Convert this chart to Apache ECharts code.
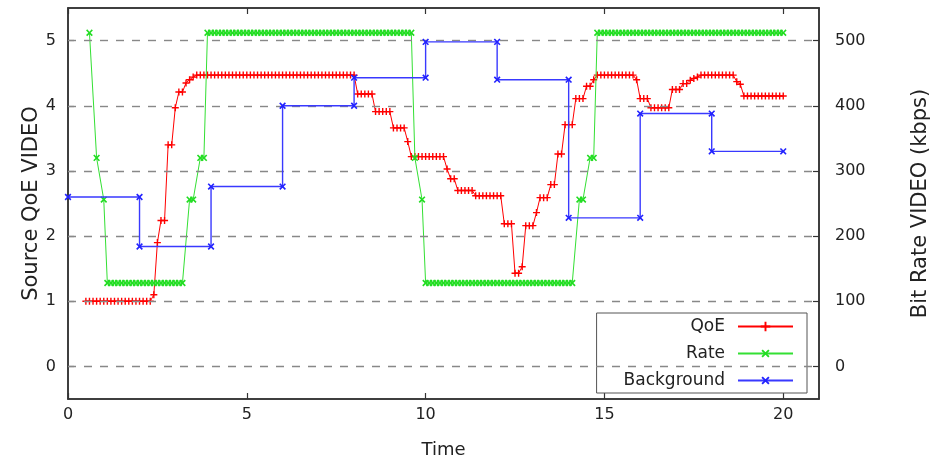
<!DOCTYPE html>
<html><head><meta charset="utf-8">
<script src="https://cdn.jsdelivr.net/npm/echarts@6/dist/echarts.min.js"></script>
<style>html,body{margin:0;padding:0;background:#fff}#c{width:936px;height:459px}</style>
</head><body><div id="c"></div>
<script>
// sample times (s)
const time = [
0.5,0.6,0.7,0.8,0.9,1.0,1.1,1.2,1.3,1.4,
1.5,1.6,1.7,1.8,1.9,2.0,2.1,2.2,2.3,2.4,
2.5,2.6,2.7,2.8,2.9,3.0,3.1,3.2,3.3,3.4,
3.5,3.6,3.7,3.8,3.9,4.0,4.1,4.2,4.3,4.4,
4.5,4.6,4.7,4.8,4.9,5.0,5.1,5.2,5.3,5.4,
5.5,5.6,5.7,5.8,5.9,6.0,6.1,6.2,6.3,6.4,
6.5,6.6,6.7,6.8,6.9,7.0,7.1,7.2,7.3,7.4,
7.5,7.6,7.7,7.8,7.9,8.0,8.1,8.2,8.3,8.4,
8.5,8.6,8.7,8.8,8.9,9.0,9.1,9.2,9.3,9.4,
9.5,9.6,9.7,9.8,9.9,10.0,10.1,10.2,10.3,10.4,
10.5,10.6,10.7,10.8,10.9,11.0,11.1,11.2,11.3,11.4,
11.5,11.6,11.7,11.8,11.9,12.0,12.1,12.2,12.3,12.4,
12.5,12.6,12.7,12.8,12.9,13.0,13.1,13.2,13.3,13.4,
13.5,13.6,13.7,13.8,13.9,14.0,14.1,14.2,14.3,14.4,
14.5,14.6,14.7,14.8,14.9,15.0,15.1,15.2,15.3,15.4,
15.5,15.6,15.7,15.8,15.9,16.0,16.1,16.2,16.3,16.4,
16.5,16.6,16.7,16.8,16.9,17.0,17.1,17.2,17.3,17.4,
17.5,17.6,17.7,17.8,17.9,18.0,18.1,18.2,18.3,18.4,
18.5,18.6,18.7,18.8,18.9,19.0,19.1,19.2,19.3,19.4,
19.5,19.6,19.7,19.8,19.9,20.0];

// Source QoE (left axis)
const qoe = [
1,1,1,1,1,1,1,1,1,1,
1,1,1,1,1,1,1,1,1,1.10,
1.90,2.24,2.24,3.40,3.40,3.97,4.21,4.21,4.35,4.40,
4.44,4.47,4.47,4.47,4.47,4.47,4.47,4.47,4.47,4.47,
4.47,4.47,4.47,4.47,4.47,4.47,4.47,4.47,4.47,4.47,
4.47,4.47,4.47,4.47,4.47,4.47,4.47,4.47,4.47,4.47,
4.47,4.47,4.47,4.47,4.47,4.47,4.47,4.47,4.47,4.47,
4.47,4.47,4.47,4.47,4.47,4.47,4.18,4.18,4.18,4.18,
4.18,3.91,3.91,3.91,3.91,3.91,3.66,3.66,3.66,3.66,
3.45,3.22,3.22,3.22,3.22,3.22,3.22,3.22,3.22,3.22,
3.22,3.03,2.88,2.88,2.70,2.70,2.70,2.70,2.70,2.62,
2.62,2.62,2.62,2.62,2.62,2.62,2.62,2.19,2.19,2.19,
1.43,1.43,1.53,2.16,2.16,2.16,2.36,2.59,2.59,2.59,
2.79,2.79,3.26,3.26,3.71,3.71,3.71,4.11,4.11,4.11,
4.30,4.30,4.40,4.47,4.47,4.47,4.47,4.47,4.47,4.47,
4.47,4.47,4.47,4.47,4.40,4.11,4.11,4.11,3.97,3.97,
3.97,3.97,3.97,3.97,4.25,4.25,4.25,4.34,4.34,4.39,
4.42,4.44,4.47,4.47,4.47,4.47,4.47,4.47,4.47,4.47,
4.47,4.47,4.37,4.33,4.15,4.15,4.15,4.15,4.15,4.15,
4.15,4.15,4.15,4.15,4.15,4.15];

// Bit rate (kbps, right axis); null = no sample
const rate = [
null,512,null,320,null,256,128,128,128,128,
128,128,128,128,128,128,128,128,128,128,
128,128,128,128,128,128,128,128,null,256,
256,null,320,320,512,512,512,512,512,512,
512,512,512,512,512,512,512,512,512,512,
512,512,512,512,512,512,512,512,512,512,
512,512,512,512,512,512,512,512,512,512,
512,512,512,512,512,512,512,512,512,512,
512,512,512,512,512,512,512,512,512,512,
512,512,320,null,256,128,128,128,128,128,
128,128,128,128,128,128,128,128,128,128,
128,128,128,128,128,128,128,128,128,128,
128,128,128,128,128,128,128,128,128,128,
128,128,128,128,128,128,128,null,256,256,
null,320,320,512,512,512,512,512,512,512,
512,512,512,512,512,512,512,512,512,512,
512,512,512,512,512,512,512,512,512,512,
512,512,512,512,512,512,512,512,512,512,
512,512,512,512,512,512,512,512,512,512,
512,512,512,512,512,512];

// Background traffic (kbps, right axis)
const bgTime = [0,2,2,4,4,6,6,8,8,10,10,12,12,14,14,16,16,18,18,20];
const bgRate = [260,260,184,184,276,276,400,400,443,443,498,498,440,440,228,228,388,388,330,330];

const xTicks = [0,5,10,15,20];
const qoeTicks = [0,1,2,3,4,5];
const rateTicks = [0,100,200,300,400,500];

const FONT = 'DejaVu Sans';
const PLUS = 'path://M4,0H6V4H10V6H6V10H4V6H0V4H4Z';

const qoeData = time.map((t, i) => [t, qoe[i]]);
const rateData = [];
time.forEach((t, i) => { if (rate[i] !== null) rateData.push([t, rate[i]]); });
const bgData = bgTime.map((t, i) => [t, bgRate[i]]);

const axisLineStyle = { color: '#333', width: 1.5 };
const lbl = { fontFamily: FONT, fontSize: 16, color: '#222' };
const tickStyle = { color: '#333', width: 1.2 };

const chart = echarts.init(document.getElementById('c'), null, { renderer: 'canvas' });
chart.setOption({
  animation: false,
  backgroundColor: '#fff',
  grid: { left: 68, right: 117, top: 8, bottom: 60, show: true, borderColor: '#333', borderWidth: 1.5,
          backgroundColor: 'transparent', outerBoundsMode: 'none', containLabel: false },
  legend: {
    data: ['QoE', 'Rate', 'Background'],
    orient: 'vertical', right: 129, bottom: 66, align: 'right',
    itemWidth: 55, itemHeight: 12, itemGap: 10,
    padding: [5, 13, 4, 27],
    borderColor: '#555', borderWidth: 1, backgroundColor: '#fff',
    textStyle: { fontFamily: FONT, fontSize: 17, color: '#222', padding: [0, 8, 0, 0] }
  },
  xAxis: [{
    type: 'value', min: 0, max: 21, position: 'bottom',
    name: 'Time', nameLocation: 'middle', nameGap: 42, nameMoveOverlap: false,
    nameTextStyle: { fontFamily: FONT, fontSize: 18, color: '#222' },
    axisLine: { show: true, onZero: false, lineStyle: axisLineStyle },
    axisTick: { show: true, inside: true, length: 6, customValues: xTicks, lineStyle: tickStyle },
    axisLabel: Object.assign({ customValues: xTicks, margin: 8 }, lbl),
    splitLine: { show: false }
  }, {
    type: 'value', min: 0, max: 21, position: 'top',
    axisLine: { show: true, onZero: false, lineStyle: axisLineStyle },
    axisTick: { show: true, inside: true, length: 6, customValues: xTicks, lineStyle: tickStyle },
    axisLabel: { show: false },
    splitLine: { show: false }
  }],
  yAxis: [{
    type: 'value', min: -0.5, max: 5.5, position: 'left',
    name: 'Source QoE VIDEO', nameLocation: 'middle', nameGap: 26, nameMoveOverlap: false,
    nameTextStyle: { fontFamily: FONT, fontSize: 21, color: '#222' },
    axisLine: { show: true, onZero: false, lineStyle: axisLineStyle },
    axisTick: { show: true, inside: true, length: 6, customValues: qoeTicks, lineStyle: tickStyle },
    axisLabel: Object.assign({ customValues: qoeTicks, margin: 12 }, lbl),
    splitLine: { show: false }
  }, {
    type: 'value', min: -50, max: 550, position: 'right',
    name: 'Bit Rate VIDEO (kbps)', nameLocation: 'middle', nameGap: 91, nameMoveOverlap: false,
    nameTextStyle: { fontFamily: FONT, fontSize: 21, color: '#222' },
    axisLine: { show: true, onZero: false, lineStyle: axisLineStyle },
    axisTick: { show: true, inside: true, length: 6, customValues: rateTicks, lineStyle: tickStyle },
    axisLabel: Object.assign({ customValues: rateTicks, margin: 16 }, lbl),
    splitLine: { show: false }
  }],
  series: [{
    name: 'grid', type: 'line', yAxisIndex: 0, data: [], z: 1, silent: true,
    markLine: {
      silent: true, symbol: ['none', 'none'], label: { show: false },
      lineStyle: { color: '#888', type: [8, 8], width: 1.4 },
      data: qoeTicks.map(v => ({ yAxis: v }))
    }
  }, {
    name: 'QoE', type: 'line', yAxisIndex: 0, data: qoeData, z: 3,
    color: '#ff0000',
    lineStyle: { color: '#ff0000', width: 1 },
    symbol: PLUS, symbolSize: 7,
    itemStyle: { color: '#ff0000' }
  }, {
    name: 'Rate', type: 'line', yAxisIndex: 1, data: rateData, z: 4,
    color: '#22dd22',
    lineStyle: { color: '#33e033', width: 1 },
    symbol: PLUS, symbolSize: 8, symbolRotate: 45,
    itemStyle: { color: '#22dd22' }
  }, {
    name: 'Background', type: 'line', yAxisIndex: 1, data: bgData, z: 5,
    color: '#2222ff',
    lineStyle: { color: '#3939ff', width: 1.4 },
    symbol: PLUS, symbolSize: 8, symbolRotate: 45,
    itemStyle: { color: '#2222ff' }
  }]
});
</script></body></html>
